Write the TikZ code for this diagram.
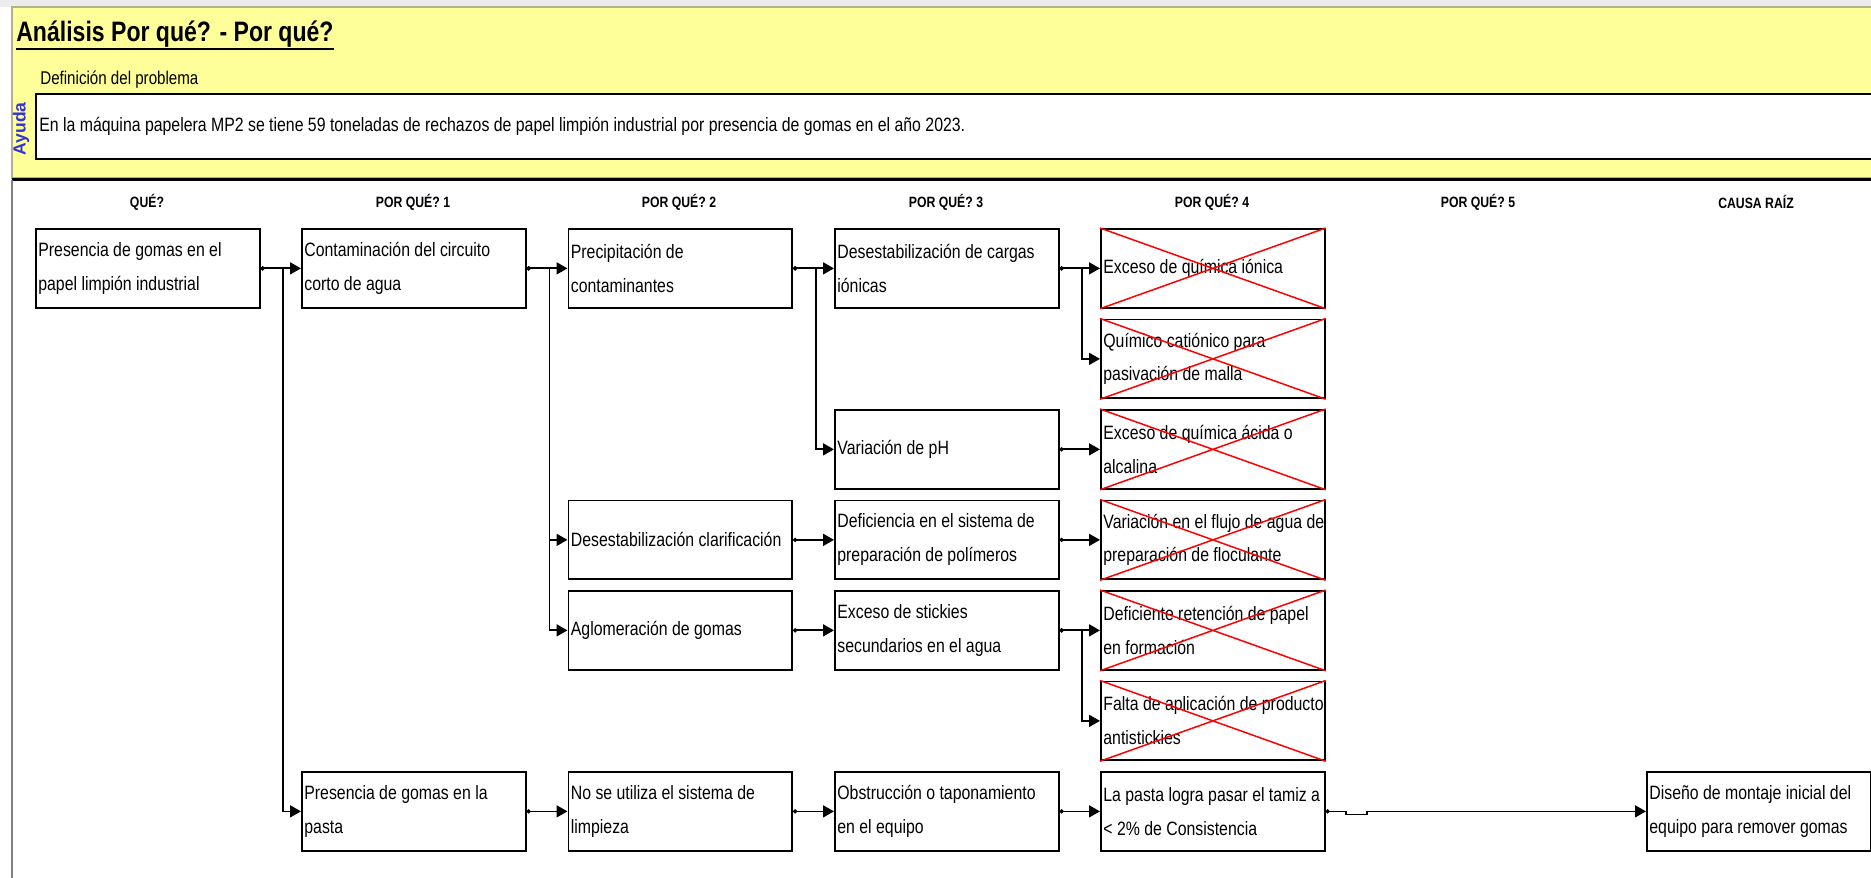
\documentclass[tikz,border=0pt]{standalone}
\usepackage{fontspec}
\setmainfont[FakeStretch=0.82]{Liberation Sans}
\newfontfamily\helpfont{Liberation Sans}
\usetikzlibrary{arrows.meta,calc}
\definecolor{sheetyellow}{RGB}{255,255,153}
\definecolor{helpblue}{RGB}{51,51,220}

\begin{document}
\begin{tikzpicture}[x=0.02cm,y=-0.02cm]
\tikzset{
	why node/.style = {draw, line width=0.035cm, anchor=north west, inner xsep=0.05cm, inner ysep=0pt,
		text width=4.38cm, minimum height=1.58cm, align=flush left, font=\fontsize{11}{19.3}\selectfont},
	head node/.style = {font=\fontsize{8.5}{10}\selectfont\bfseries},
	link/.style = {line width=0.035cm, {Circle[length=0.08cm]}-{Triangle[length=0.22cm,width=0.24cm]}},
	cross line/.style = {red, line width=0.03cm}
}
\useasboundingbox (0,0) rectangle (1871,878);
\clip (0,0) rectangle (1871,878);

\fill[gray!15] (0,0) rectangle (1871,7);
\draw[gray!60!sheetyellow, line width=0.03cm, fill=sheetyellow] (12,7) rectangle (1890,178);
\draw[line width=0.06cm] (12,180) -- (1871,180);
\draw[gray, line width=0.03cm] (12,180) -- (12,878);

\node(title)[anchor=base west, inner sep=0, font=\fontsize{16}{18}\selectfont\bfseries] at (16,42) {Análisis Por qué? - Por qué?};
\draw[line width=0.05cm] ($(title.base west)+(0,7)$) -- ($(title.base east)+(0,7)$);
\node(def)[anchor=west, inner sep=0, font=\fontsize{10.5}{12}\selectfont] at (40,80) {Definición del problema};
\draw[line width=0.035cm, fill=white] (36,94) rectangle (1890,159);
\node(prob)[anchor=west, inner sep=0, font=\fontsize{11}{13}\selectfont] at (39,126.5) {En la máquina papelera MP2 se tiene 59 toneladas de rechazos de papel limpión industrial por presencia de gomas en el año 2023.};
\node(help)[rotate=90, inner sep=0, text=helpblue, font=\helpfont\fontsize{10}{12}\selectfont\bfseries] at (21,129) {Ayuda};

\foreach \x/\t [count=\i] in {147/QUÉ?, 413/POR QUÉ? 1, 679/POR QUÉ? 2, 946/POR QUÉ? 3, 1212/POR QUÉ? 4, 1478/POR QUÉ? 5, 1756/CAUSA RAÍZ}
	\node(h\i)[head node] at (\x,202) {\t};

\node(q0)[why node] at (35,228) {Presencia de gomas en el\\papel limpión industrial};
\node(a0)[why node] at (301,228) {Contaminación del circuito\\corto de agua};
\node(a6)[why node] at (301,771) {Presencia de gomas en la\\pasta};
\node(b0)[why node] at (567.5,228) {Precipitación de\\contaminantes};
\node(b3)[why node] at (567.5,499.5) {Desestabilización clarificación};
\node(b4)[why node] at (567.5,590) {Aglomeración de gomas};
\node(b6)[why node] at (567.5,771) {No se utiliza el sistema de\\limpieza};
\node(c0)[why node] at (834,228) {Desestabilización de cargas\\iónicas};
\node(c2)[why node] at (834,409) {Variación de pH};
\node(c3)[why node] at (834,499.5) {Deficiencia en el sistema de\\preparación de polímeros};
\node(c4)[why node] at (834,590) {Exceso de stickies\\secundarios en el agua};
\node(c6)[why node] at (834,771) {Obstrucción o taponamiento\\en el equipo};
\node(d0)[why node] at (1100,228) {Exceso de química iónica};
\node(d1)[why node] at (1100,318.5) {Químico catiónico para\\pasivación de malla};
\node(d2)[why node] at (1100,409) {Exceso de química ácida o\\alcalina};
\node(d3)[why node] at (1100,499.5) {\mbox{Variación en el flujo de agua de}\\preparación de floculante};
\node(d4)[why node] at (1100,590) {Deficiente retención de papel\\en formación};
\node(d5)[why node] at (1100,680.5) {\mbox{Falta de aplicación de producto}\\antistickies};
\node(d6)[why node] at (1100,771) {\mbox{La pasta logra pasar el tamiz a}\\< 2\% de Consistencia};
\node(r6)[why node] at (1646,771) {Diseño de montaje inicial del\\equipo para remover gomas};

\foreach \n in {d0,d1,d2,d3,d4,d5}
	\draw[cross line] (\n.north west) -- (\n.south east) (\n.south west) -- (\n.north east);

\foreach \p/\c in {q0/a0, q0/a6, a0/b0, a0/b3, a0/b4, a6/b6, b0/c0, b0/c2, b3/c3, b4/c4, b6/c6,
		c0/d0, c0/d1, c2/d2, c3/d3, c4/d4, c4/d5, c6/d6}
	\draw[link] (\p.east) -| ([xshift=-0.36cm]\c.west) -- (\c.west);
\draw[link] (d6.east) -- ++(20,0) -- ++(0,3) -- ++(21,0) -- ++(0,-3) -- (r6.west);
\end{tikzpicture}
\end{document}
